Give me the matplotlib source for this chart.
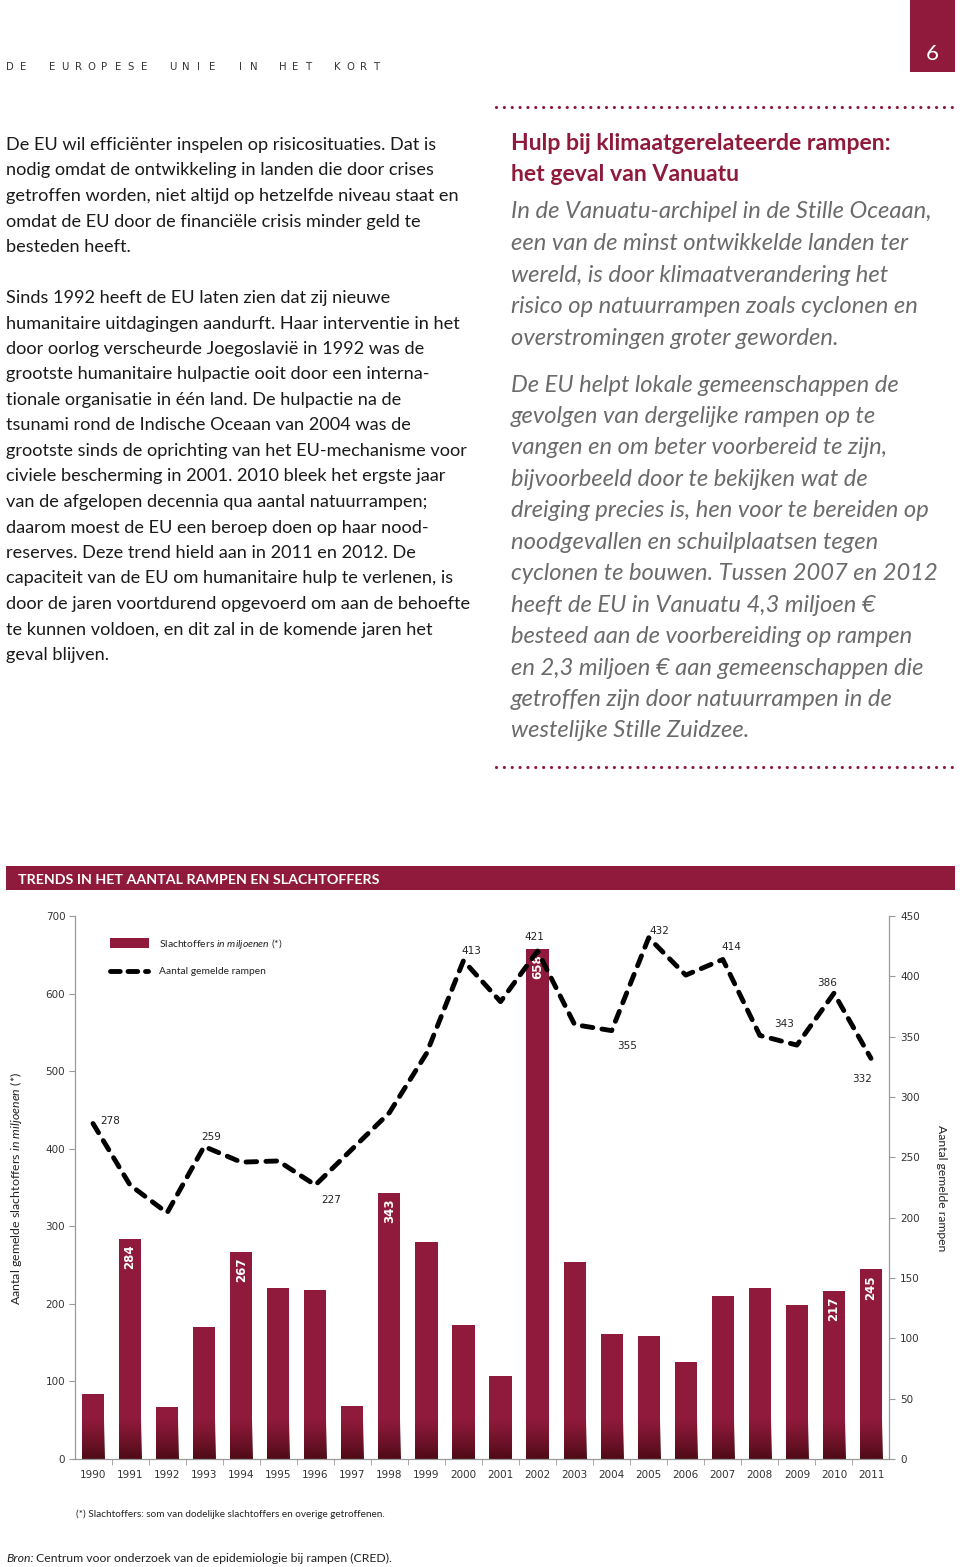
import numpy as np
import matplotlib
matplotlib.use("Agg")
import matplotlib.pyplot as plt
from matplotlib.patches import Rectangle
from matplotlib.lines import Line2D
from matplotlib.ticker import FixedLocator
from matplotlib.colors import to_rgb

# ---- data ----
years = [str(y) for y in range(1990, 2012)]
victims = [84, 284, 67, 170, 267, 220, 218, 68, 343, 280, 173, 107,
           658, 254, 161, 159, 125, 210, 221, 198, 217, 245]
disasters = [278, 227, 204, 259, 246, 247, 227, 257, 287, 336, 413, 379,
             421, 360, 355, 432, 401, 414, 351, 343, 386, 332]
bar_labelled = [1, 4, 8, 12, 20, 21]
# label offsets (pixels) for the labelled points of the line
line_label_offsets = {0: (17, 3), 3: (7, 9), 6: (16, -15), 10: (8, 10),
                      12: (-3, 14), 14: (15, -15), 15: (11, 7), 17: (9, 12),
                      19: (-13, 21), 20: (-7, 10), 21: (-9, -21)}

header = "DE EUROPESE UNIE IN HET KORT"
left_par1 = [
    "De EU wil efficiënter inspelen op risicosituaties. Dat is",
    "nodig omdat de ontwikkeling in landen die door crises",
    "getroffen worden, niet altijd op hetzelfde niveau staat en",
    "omdat de EU door de financiële crisis minder geld te",
    "besteden heeft.",
]
left_par2 = [
    "Sinds 1992 heeft de EU laten zien dat zij nieuwe",
    "humanitaire uitdagingen aandurft. Haar interventie in het",
    "door oorlog verscheurde Joegoslavië in 1992 was de",
    "grootste humanitaire hulpactie ooit door een interna-",
    "tionale organisatie in één land. De hulpactie na de",
    "tsunami rond de Indische Oceaan van 2004 was de",
    "grootste sinds de oprichting van het EU-mechanisme voor",
    "civiele bescherming in 2001. 2010 bleek het ergste jaar",
    "van de afgelopen decennia qua aantal natuurrampen;",
    "daarom moest de EU een beroep doen op haar nood-",
    "reserves. Deze trend hield aan in 2011 en 2012. De",
    "capaciteit van de EU om humanitaire hulp te verlenen, is",
    "door de jaren voortdurend opgevoerd om aan de behoefte",
    "te kunnen voldoen, en dit zal in de komende jaren het",
    "geval blijven.",
]
box_title = ["Hulp bij klimaatgerelateerde rampen:", "het geval van Vanuatu"]
box_par1 = [
    "In de Vanuatu-archipel in de Stille Oceaan,",
    "een van de minst ontwikkelde landen ter",
    "wereld, is door klimaatverandering het",
    "risico op natuurrampen zoals cyclonen en",
    "overstromingen groter geworden.",
]
box_par2 = [
    "De EU helpt lokale gemeenschappen de",
    "gevolgen van dergelijke rampen op te",
    "vangen en om beter voorbereid te zijn,",
    "bijvoorbeeld door te bekijken wat de",
    "dreiging precies is, hen voor te bereiden op",
    "noodgevallen en schuilplaatsen tegen",
    "cyclonen te bouwen. Tussen 2007 en 2012",
    "heeft de EU in Vanuatu 4,3 miljoen €",
    "besteed aan de voorbereiding op rampen",
    "en 2,3 miljoen € aan gemeenschappen die",
    "getroffen zijn door natuurrampen in de",
    "westelijke Stille Zuidzee.",
]

RED = "#8f1a3b"
DARK = "#4e0b16"
GREY = "#9a9a9a"
W, H = 960, 1567

plt.rcParams["font.family"] = ["Lato", "DejaVu Sans"]
plt.rcParams["mathtext.fontset"] = "custom"
plt.rcParams["mathtext.rm"] = "Lato"
plt.rcParams["mathtext.it"] = "Lato:italic"

fig = plt.figure(figsize=(W / 100, H / 100), dpi=100)
renderer = fig.canvas.get_renderer()


def fx(x):
    return x / W


def fy(y):
    return 1 - y / H


def fit(texts, ref, target, vertical=False):
    bb = ref.get_window_extent(renderer)
    size = ref.get_fontsize() * target / (bb.height if vertical else bb.width)
    for t in texts:
        t.set_fontsize(size)


def block(lines, x, y0, dy, ref_i, ref_w, **kw):
    ts = [fig.text(fx(x), fy(y0 + i * dy), s, va="baseline", ha="left", **kw)
          for i, s in enumerate(lines)]
    fit(ts, ts[ref_i], ref_w)
    return ts


# ---- page header (letter spaced) ----
cx = 10
for word in header.split():
    for ch in word:
        fig.text(fx(cx), fy(70), ch, color="#333333", fontsize=7.3, ha="center",
                 va="baseline", family="DejaVu Sans")
        cx += 13.2
    cx += 28.5 - 13.2

fig.add_artist(Rectangle((fx(910), fy(72)), 45 / W, 72 / H, transform=fig.transFigure,
                         color=RED, lw=0))
fig.text(fx(932), fy(54), "6", color="white", fontsize=16, ha="center", va="center")

for yy in (107, 767):
    fig.add_artist(Line2D([fx(496), fx(954)], [fy(yy)] * 2, transform=fig.transFigure,
                          color=RED, lw=2.3, linestyle=(0, (0.01, 2.45)),
                          dash_capstyle="round"))

# ---- body text ----
p1 = block(left_par1, 6, 150, 25.5, 2, 452, color="#1a1a1a", fontsize=12)
for i, s in enumerate(left_par2):
    fig.text(fx(6), fy(303 + i * 25.5), s, va="baseline", color="#1a1a1a",
             fontsize=p1[0].get_fontsize())

block(box_title, 511, 150, 31, 0, 382, color=RED, fontsize=15, fontweight="bold")
b2 = block(box_par2, 511, 391.5, 31.45, 4, 418, color="#6b6b6b", fontsize=15,
           style="italic")
for i, s in enumerate(box_par1):
    fig.text(fx(511), fy(218.5 + i * 31.6), s, va="baseline", color="#6b6b6b",
             style="italic", fontsize=b2[0].get_fontsize())

# ---- chart banner ----
fig.add_artist(Rectangle((fx(6), fy(890)), 949 / W, 24 / H, transform=fig.transFigure,
                         color=RED, lw=0))
bt = fig.text(fx(18), fy(883.5), "TRENDS IN HET AANTAL RAMPEN EN SLACHTOFFERS",
              color="white", fontweight="bold", fontsize=10, va="baseline")
fit([bt], bt, 362)

# ---- chart ----
ax = fig.add_axes([fx(75), fy(1459), (889 - 75) / W, (1459 - 916) / H])
x = np.arange(len(years))
bars = ax.bar(x, victims, width=0.6, color=RED, zorder=2)

grad = np.zeros((100, 1, 4))
grad[..., :3] = to_rgb(DARK)
grad[:, 0, 3] = np.linspace(1, 0, 100) ** 1.2
for b in bars:
    im = ax.imshow(grad, extent=[b.get_x(), b.get_x() + b.get_width(), 0, 52],
                   origin="lower", aspect="auto", zorder=2.5, interpolation="bilinear")
    im.set_clip_path(b)

for i in bar_labelled:
    ax.annotate(str(victims[i]), (x[i], victims[i]), xytext=(0, -6),
                textcoords="offset pixels", ha="center", va="top", rotation=90,
                color="white", fontweight="bold", fontsize=8.5, zorder=4,
                family="DejaVu Sans")

ax.set_xlim(-0.486, len(years) - 0.514)
ax.set_ylim(0, 700)
ax.set_yticks(range(0, 701, 100))
ax.set_xticks(x, years)
ax.xaxis.set_minor_locator(FixedLocator(np.arange(0.5, len(years) - 1, 1)))
ax.tick_params(axis="y", length=4, color=GREY, pad=3, labelsize=7.5, labelcolor="#333333")
ax.tick_params(axis="x", which="major", length=0, pad=8, labelsize=7.5, labelcolor="#333333")
ax.tick_params(axis="x", which="minor", length=4, color=GREY)
for lab in ax.get_xticklabels() + ax.get_yticklabels():
    lab.set_family("DejaVu Sans")
for s in ("top", "right"):
    ax.spines[s].set_visible(False)
for s in ("left", "bottom"):
    ax.spines[s].set_color(GREY)
    ax.spines[s].set_linewidth(0.9)

ax2 = ax.twinx()
ax2.plot(x, disasters, color="black", lw=3.5, linestyle=(0, (2.2, 1.9)),
         dash_capstyle="round", zorder=3)
ax2.set_ylim(0, 450)
ax2.set_yticks(range(0, 451, 50))
ax2.tick_params(axis="y", length=4, color=GREY, pad=4, labelsize=7.5, labelcolor="#333333")
for lab in ax2.get_yticklabels():
    lab.set_family("DejaVu Sans")
for s in ("top", "left", "bottom"):
    ax2.spines[s].set_visible(False)
ax2.spines["right"].set_color(GREY)
ax2.spines["right"].set_linewidth(0.9)

for i, off in line_label_offsets.items():
    ax2.annotate(str(disasters[i]), (x[i], disasters[i]), xytext=off,
                 textcoords="offset pixels", ha="center", va="center",
                 fontsize=7.5, color="#222222", family="DejaVu Sans")

# axis titles
yl = fig.text(fx(16), fy(1188), r"Aantal gemelde slachtoffers $\mathit{in\ miljoenen\ (*)}$",
              rotation=90, ha="center", va="center", fontsize=8, color="#222222")
fit([yl], yl, 235, vertical=True)
yr = fig.text(fx(942), fy(1188), "Aantal gemelde rampen", rotation=-90,
              ha="center", va="center", fontsize=8, color="#222222")
fit([yr], yr, 127, vertical=True)

# legend
fig.add_artist(Rectangle((fx(110), fy(948)), 39 / W, 10 / H, transform=fig.transFigure,
                         color=RED, lw=0))
fig.add_artist(Line2D([fx(110), fx(148)], [fy(971)] * 2, transform=fig.transFigure,
                      color="black", lw=3.5, linestyle=(0, (2.0, 1.6)),
                      dash_capstyle="round"))
l1 = fig.text(fx(159), fy(947), r"Slachtoffers $\mathit{in\ miljoenen}$ (*)",
              va="baseline", fontsize=8, color="#222222")
fit([l1], l1, 124)
l2 = fig.text(fx(159), fy(974), "Aantal gemelde rampen", va="baseline", fontsize=8,
              color="#222222")
fit([l2], l2, 107)

# notes
fn = fig.text(fx(76), fy(1517), "(*) Slachtoffers: som van dodelijke slachtoffers en overige getroffenen.",
              va="baseline", fontsize=7, color="#222222")
fit([fn], fn, 310)
s1 = fig.text(fx(6), fy(1562), "Bron:", style="italic", va="baseline", fontsize=8.8,
              color="#222222")
w1 = s1.get_window_extent(renderer).width
fig.text(fx(6 + w1 + 3), fy(1562),
         "Centrum voor onderzoek van de epidemiologie bij rampen (CRED).",
         va="baseline", fontsize=8.8, color="#222222")

fig.savefig("out.png", dpi=100)
